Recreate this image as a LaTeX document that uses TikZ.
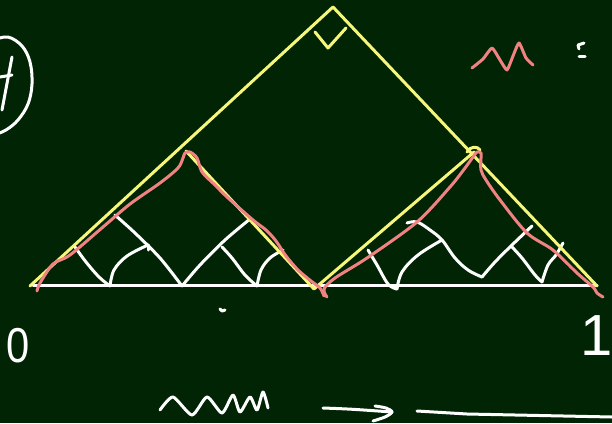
\documentclass[tikz,border=0pt]{standalone}
\usepackage{fontspec}
\newfontfamily\handfont{Liberation Sans}
\definecolor{board}{RGB}{0,36,4}
\definecolor{chalkyellow}{RGB}{246,246,122}
\definecolor{chalkpink}{RGB}{240,130,130}
\begin{document}
\begin{tikzpicture}[x=1pt,y=-1pt,line cap=round,line join=round,
  yel/.style={draw=chalkyellow,line width=3pt},
  pnk/.style={draw=chalkpink,line width=3pt},
  wht/.style={draw=white,line width=3pt},
  digit/.style={text=white,inner sep=0pt,font=\handfont}]
\fill[board] (0,0) rectangle (612,423);
\useasboundingbox (0,0) rectangle (612,423);
\clip (0,0) rectangle (612,423);

% base line
\coordinate (A) at (30,286);
\coordinate (T) at (333,7);
\coordinate (B) at (597,286);
\coordinate (L) at (186,151);
\coordinate (M) at (314,289);
\coordinate (R) at (474,152);
\draw[wht] (33,285.5) -- (597,285.5);

% white arcs, left half
\draw[wht] plot[smooth,tension=0.6] coordinates {(75,247) (86,262) (99,277) (110,286)};
\draw[wht] plot[smooth,tension=0.6] coordinates {(110,286) (114,270) (127,256) (148,245)};
\draw[wht] (148,245) -- (148,250);
\draw[wht] plot[smooth,tension=0.5] coordinates {(115,215) (135,233) (160,258) (182,286)};
\draw[wht] plot[smooth,tension=0.5] coordinates {(182,286) (200,265) (225,240) (250,219)};
\draw[wht] plot[smooth,tension=0.6] coordinates {(222,247) (232,258) (245,275) (257,286)};
\draw[wht] plot[smooth,tension=0.6] coordinates {(257,286) (261,270) (270,258) (283,250)};
% white arcs, right half
\draw[wht] plot[smooth,tension=0.6] coordinates {(368,250) (377,265) (388,284) (397,289)};
\draw[wht] plot[smooth,tension=0.6] coordinates {(397,289) (402,272) (418,255) (442,240)};
\draw[wht] plot[smooth,tension=0.6] coordinates {(407,223) (417,222) (430,230) (442,240) (455,258) (468,270) (482,277)};
\draw[wht] plot[smooth,tension=0.6] coordinates {(482,277) (495,262) (512,245) (532,226)};
\draw[wht] plot[smooth,tension=0.6] coordinates {(512,247) (522,258) (535,275) (542,282)};
\draw[wht] plot[smooth,tension=0.6] coordinates {(542,282) (548,265) (556,255) (563,243)};

% yellow triangles
\draw[yel] (A) -- (T) -- (B);
\draw[yel] (L) -- (M) -- (R);
\draw[yel] (467,152) .. controls (470,146) and (478,146) .. (480,150);
\draw[yel] (315,32) -- (328,48) -- (346,28);

% pink curves
\draw[pnk] plot[smooth,tension=0.5] coordinates {(37,291) (40,283) (53,264) (70,255) (103,227) (130,204) (160,183) (178,168) (183,158) (185,153) (190,152) (197,158) (202,172) (215,185) (227,197) (253,220) (266,230) (276,241) (286,256) (298,270) (311,281) (320,288) (324,296)};
\draw[pnk] plot[smooth,tension=0.5] coordinates {(327,297) (324,289) (335,278) (367,258) (417,222) (450,187) (465,168) (473,157) (477,152) (481,153) (481,158) (481,170) (486,180) (500,200) (527,233) (553,250) (577,273) (593,287) (597,293) (603,297)};

% pink small curve
\draw[pnk] plot[smooth,tension=0.3] coordinates {(472,68) (483,59) (492,48) (500,60) (507,70) (513,56) (519,43) (526,58) (533,65)};

% circled d (cut at left)
\draw[wht] plot[smooth,tension=0.6] coordinates {(-6,40) (8,37) (22,46) (30,62) (32,84) (28,104) (18,120) (6,130) (-6,135)};
\draw[wht] (12,57) -- (2,110);
\draw[wht] (0,77) -- (12,75);

% small marks
\draw[wht] (579,49) -- (578,45) -- (584,43);
\draw[wht] (579,56) -- (585,56);
\draw[wht] (220,309) -- (222,311) -- (225,310);

% digits
\node[digit,font=\handfont\fontsize{49}{49}\selectfont,anchor=base,xscale=0.85] (zero) at (18.5,362) {0};
\node[digit,font=\handfont\fontsize{58}{58}\selectfont,anchor=base west] (one) at (580,355) {1};

% bottom squiggle
\draw[wht] plot[smooth,tension=0.4] coordinates {(160,410) (173,397) (192,415) (207,397) (222,413) (233,395) (240,412) (250,397) (257,410) (263,392) (268,408)};

% arrow and line
\coordinate (a1) at (323,408);
\coordinate (a2) at (392,412);
\draw[wht] (a1) .. controls (350,409) .. (a2);
\draw[wht] plot[smooth,tension=0.5] coordinates {(375,406) (386,408) (392,412) (385,417) (373,421)};
\coordinate (l1) at (417,411);
\coordinate (l2) at (612,417);
\draw[wht] (l1) -- (467,414) -- (l2);
\end{tikzpicture}
\end{document}
